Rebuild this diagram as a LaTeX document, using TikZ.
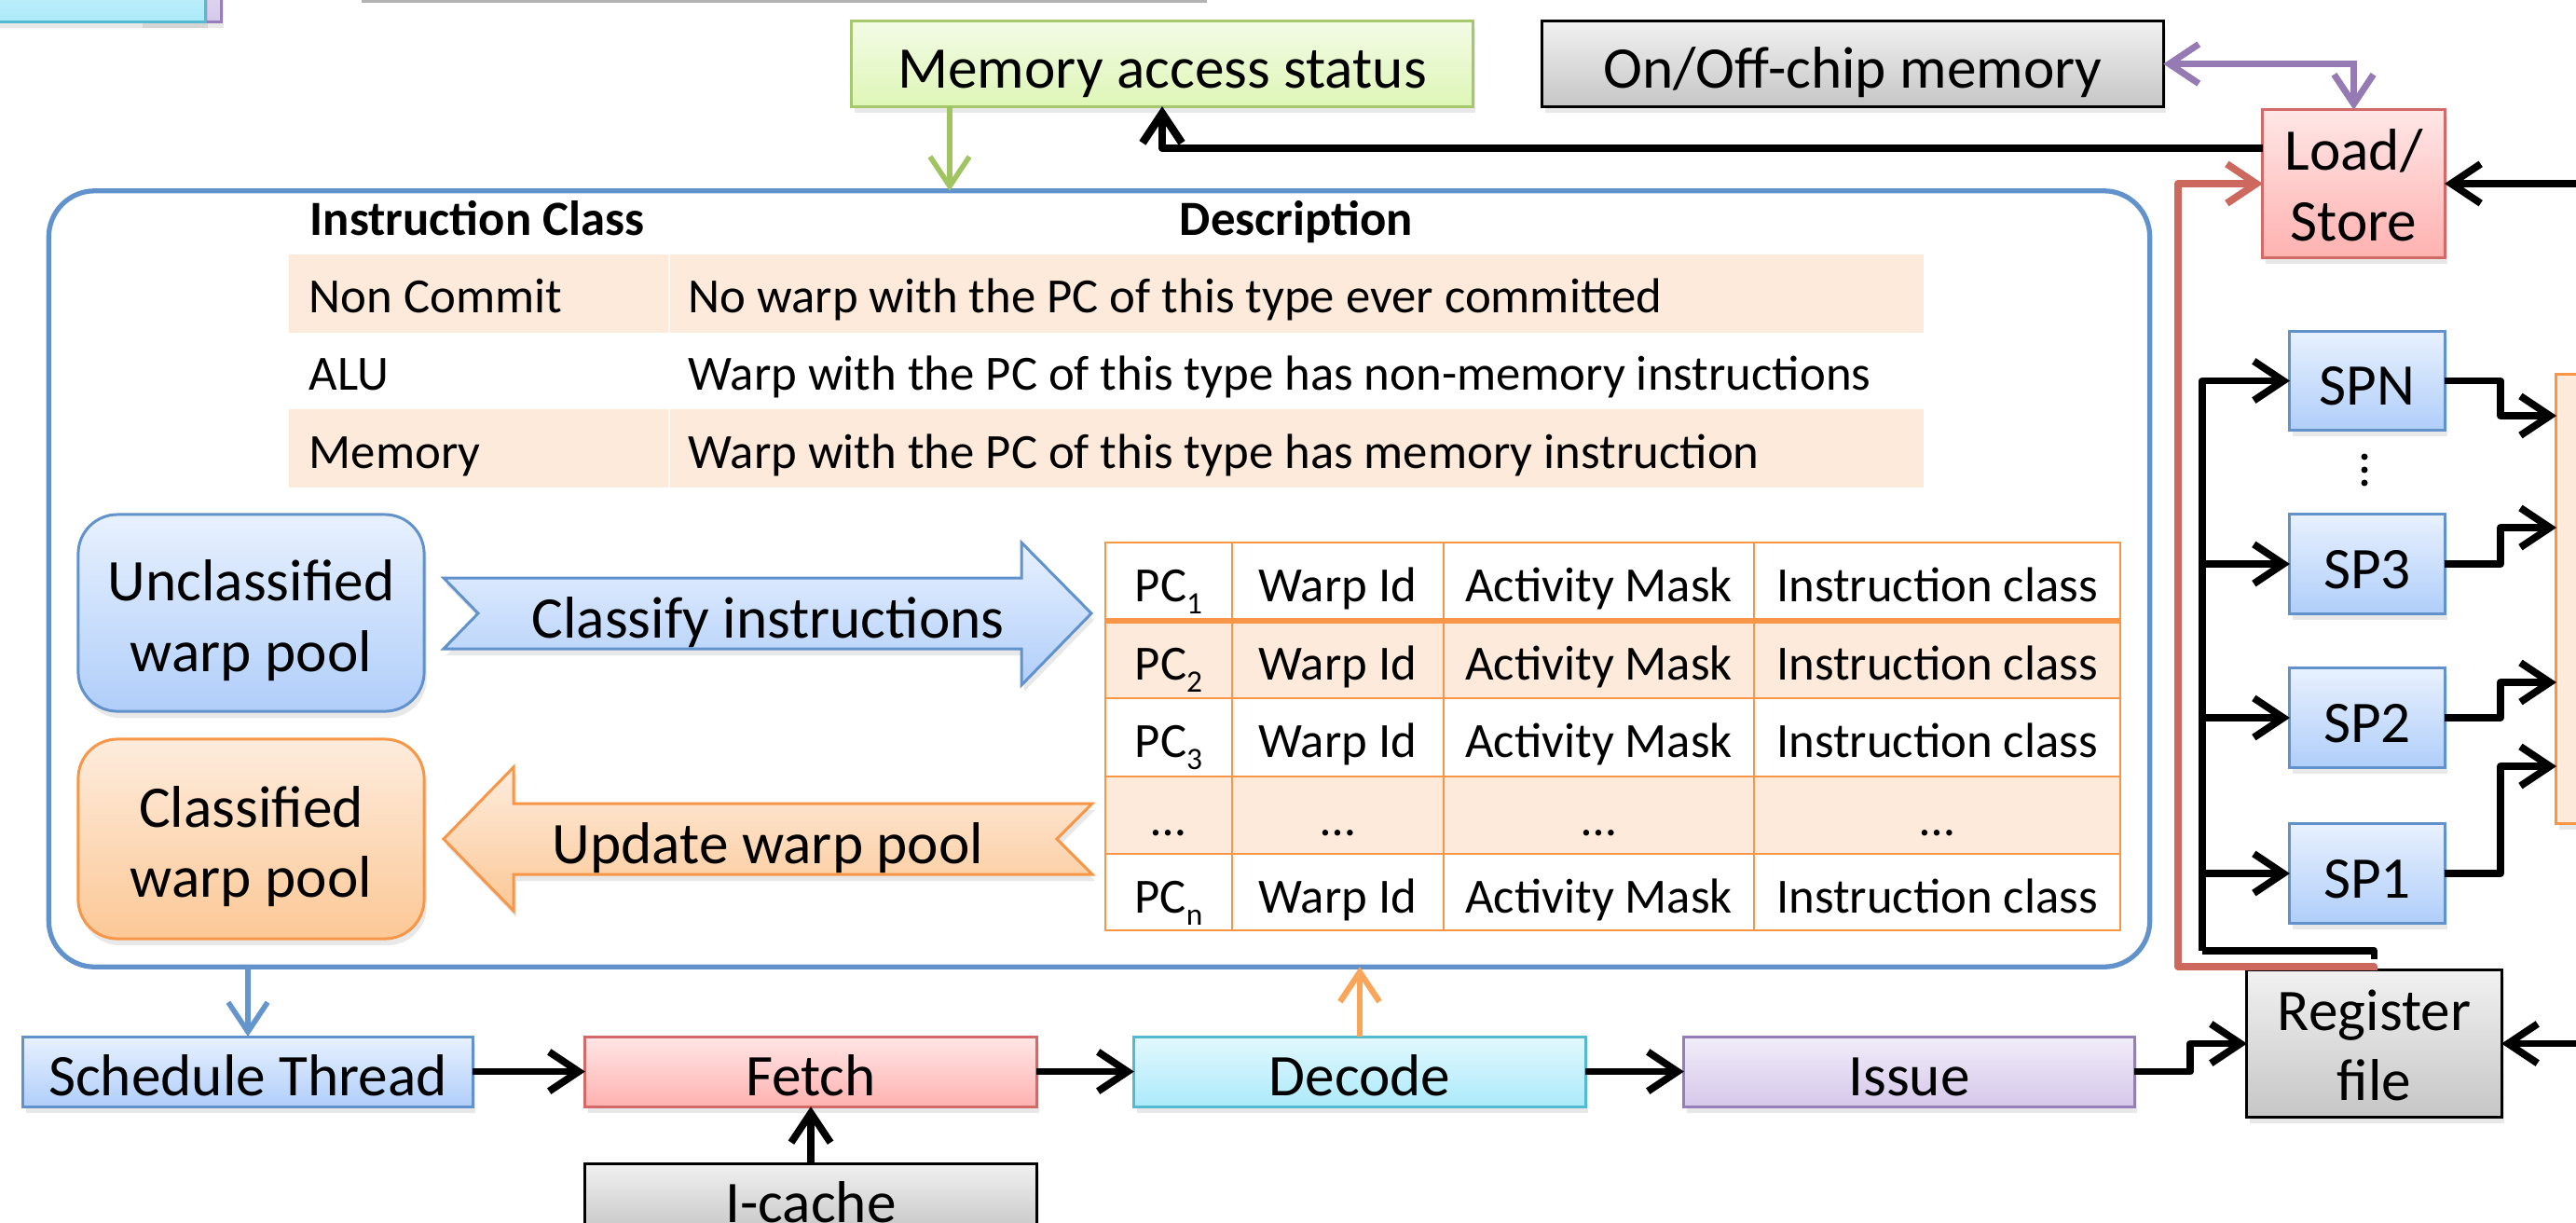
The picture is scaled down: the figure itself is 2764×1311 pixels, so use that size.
\documentclass[tikz,border=0pt]{standalone}
\usepackage{fontspec}
\setmainfont{Carlito}
\usetikzlibrary{arrows.meta,shadows,calc}
\definecolor{cBlue}{RGB}{98,146,204}
\definecolor{blueT}{RGB}{232,241,254}
\definecolor{blueB}{RGB}{176,206,250}
\definecolor{cRed}{RGB}{212,106,104}
\definecolor{redT}{RGB}{255,230,230}
\definecolor{redB}{RGB}{255,178,176}
\definecolor{cGreen}{RGB}{166,200,108}
\definecolor{greenT}{RGB}{243,251,230}
\definecolor{greenB}{RGB}{222,246,182}
\definecolor{grayT}{RGB}{241,241,241}
\definecolor{grayB}{RGB}{198,198,198}
\definecolor{cCyan}{RGB}{84,186,210}
\definecolor{cyanT}{RGB}{226,248,254}
\definecolor{cyanB}{RGB}{172,234,250}
\definecolor{cPurple}{RGB}{150,126,184}
\definecolor{purT}{RGB}{241,237,249}
\definecolor{purB}{RGB}{214,200,234}
\definecolor{cOrange}{RGB}{247,150,70}
\definecolor{oraT}{RGB}{253,236,221}
\definecolor{oraB}{RGB}{252,200,150}
\definecolor{peach}{RGB}{253,234,218}
\definecolor{lRed}{RGB}{205,104,94}
\definecolor{lPurple}{RGB}{150,122,180}
\definecolor{lGreen}{RGB}{160,196,98}
\definecolor{lBlue}{RGB}{100,150,205}
\definecolor{lOrange}{RGB}{249,166,90}
\newcommand\fA{\fontsize{18}{21.5}\selectfont}
\newcommand\fB{\fontsize{15}{18}\selectfont}
\newcommand\pcsub[1]{PC\raisebox{-3.7pt}{\fontsize{9.5}{9.5}\selectfont #1}}
% two-line label with controlled vertical placement
\newcommand\twol[3]{\rule{0pt}{#1}#2\\#3\rule[-5pt]{0pt}{5pt}}
\newcommand\mybox[7]{%
  \pgfmathsetmacro\myw{((#4)-(#2))*0.284528}%
  \pgfmathsetmacro\myh{((#5)-(#3))*0.284528}%
  \node[#6, minimum width=\myw pt, minimum height=\myh pt] (#1) at ({((#2)+(#4))/2},{((#3)+(#5))/2}) {#7};}
\begin{document}
\begin{tikzpicture}[x=0.01cm,y=-0.01cm,
  shd/.style={drop shadow={shadow xshift=0.8pt,shadow yshift=-2pt,opacity=0.18}},
  bx/.style={draw,inner sep=0pt,outer sep=0pt,line width=0.85pt,font=\fA,shd},
  one/.style={text height=15pt,text depth=0pt},
  two/.style={align=center},
  fblue/.style={bx,draw=cBlue,top color=blueT,bottom color=blueB},
  fred/.style={bx,draw=cRed,top color=redT,bottom color=redB},
  fgreen/.style={bx,draw=cGreen,top color=greenT,bottom color=greenB},
  fgray/.style={bx,draw=black,top color=grayT,bottom color=grayB},
  fcyan/.style={bx,draw=cCyan,top color=cyanT,bottom color=cyanB},
  fpurple/.style={bx,draw=cPurple,top color=purT,bottom color=purB},
  forange/.style={bx,draw=cOrange,top color=oraT,bottom color=oraB},
  arrowend/.style={-{Straight Barb[length=9pt,width=12pt]}},
  blk/.style={line width=2.2pt,line join=round,arrowend},
  thinarr/.style={line width=1.6pt,arrowend},
  tl/.style={font=\fB,anchor=base west,inner sep=0pt},
  tc/.style={font=\fB,anchor=base,inner sep=0pt},
  lbl/.style={font=\fA,inner sep=0pt,text height=15pt,text depth=0pt}
]
\useasboundingbox (0,0) rectangle (2764,1311);
\clip (0,0) rectangle (2764,1311);

% partial shapes at the top edge
\mybox{tlp}{150}{-60}{237}{23}{fpurple}{}
\mybox{tlc}{-20}{-60}{220}{23}{fcyan}{}
\draw[line width=1pt,draw=black!30] (388,1) -- (1295,1);

% top boxes
\mybox{mas}{914}{23}{1580}{114}{fgreen,one}{Memory access status}
\mybox{oo}{1655}{23}{2321}{114}{fgray,one}{On/Off-chip memory}
\mybox{ls}{2428}{128}{2623}{266}{fred,two}{\twol{18.5pt}{Load/}{Store}}

% big rounded container
\mybox{br}{53}{205}{2306}{1037}{draw=cBlue,line width=1.5pt,rounded corners=14pt,inner sep=0pt,outer sep=0pt}{}

% instruction class table
\fill[peach] (310,273) rectangle (2064,357);
\fill[peach] (310,439) rectangle (2064,523);
\draw[white,line width=0.5pt,opacity=0.7] (718,273) -- (718,357) (718,439) -- (718,523);
\node[tc,font=\fB\bfseries] (h1) at (512,252) {Instruction Class};
\node[tc,font=\fB\bfseries] (h2) at (1391,252) {Description};
\node[tl] (c11) at (331,335) {Non Commit};
\node[tl] (c12) at (738,335) {No warp with the PC of this type ever committed};
\node[tl] (c21) at (331,418) {ALU};
\node[tl] (c22) at (738,418) {Warp with the PC of this type has non-memory instructions};
\node[tl] (c31) at (331,502) {Memory};
\node[tl] (c32) at (738,502) {Warp with the PC of this type has memory instruction};

% warp pools
\mybox{uw}{84}{552}{455}{763}{fblue,two,rounded corners=12pt}{\twol{19.3pt}{Unclassified}{warp pool}}
\mybox{cw}{84}{793}{455}{1007}{forange,two,rounded corners=12pt}{\twol{19.1pt}{Classified}{warp pool}}

% block arrows
\path[draw=cBlue,line width=0.85pt,top color=blueT,bottom color=blueB,shd]
  (476,620) -- (1096,620) -- (1096,582) -- (1171,658) -- (1096,735) -- (1096,696) -- (476,696) -- (513,658) -- cycle;
\node[lbl] (cls) at (824,658) {Classify instructions};
\path[draw=cOrange,line width=0.85pt,top color=oraT,bottom color=oraB,shd]
  (476,900) -- (551,823) -- (551,862) -- (1172,862) -- (1134,900) -- (1172,938) -- (551,938) -- (551,977) -- cycle;
\node[lbl] (upd) at (824,900) {Update warp pool};

% warp table
\fill[white] (1186,582) rectangle (2275,998);
\fill[peach] (1186,666) rectangle (2275,749);
\fill[peach] (1186,833) rectangle (2275,916);
\draw[cOrange,line width=0.8pt] (1186,582) rectangle (2275,998)
  (1186,749) -- (2275,749) (1186,833) -- (2275,833) (1186,916) -- (2275,916)
  (1322,582) -- (1322,998) (1549,582) -- (1549,998) (1882,582) -- (1882,998);
\draw[cOrange,line width=1.5pt] (1186,666) -- (2275,666);
\foreach \r/\yb/\p in {1/645/1,2/729/2,3/812/3,5/979/n}{
  \node[tc] (pc\r) at (1254,\yb) {\pcsub{\p}};
  \node[tc] (wi\r) at (1435.5,\yb) {Warp Id};
  \node[tc] (am\r) at (1715.5,\yb) {Activity Mask};
  \node[tc] (ic\r) at (2078.5,\yb) {Instruction class};
}
\node[tc] (pc4) at (1254,896) {…};
\node[tc] (wi4) at (1435.5,896) {…};
\node[tc] (am4) at (1715.5,896) {…};
\node[tc] (ic4) at (2078.5,896) {…};

% pipeline
\mybox{st}{25}{1112}{507}{1187}{fblue,one}{Schedule Thread}
\mybox{fe}{628}{1112}{1112}{1187}{fred,one}{Fetch}
\mybox{de}{1217}{1112}{1701}{1187}{fcyan,one}{Decode}
\mybox{is}{1807}{1112}{2290}{1187}{fpurple,one}{Issue}
\mybox{rf}{2411}{1051}{2684}{1188}{fgray,two}{\twol{18.3pt}{Register}{file}}
\mybox{icache}{628}{1248}{1112}{1323}{fgray,one}{I-cache}

% SP units
\mybox{spN}{2457}{356}{2623}{461}{fblue,one}{SPN}
\mybox{sp3}{2457}{552}{2623}{658}{fblue,one}{SP3}
\mybox{sp2}{2457}{717}{2623}{823}{fblue,one}{SP2}
\mybox{sp1}{2457}{884}{2623}{990}{fblue,one}{SP1}
\fill (2537,490) circle (3.5) (2537,504) circle (3.5) (2537,518) circle (3.5);
\mybox{ob}{2743}{402}{2950}{883}{bx,draw=cOrange,fill=peach}{}

% connectors
\draw[blk] (st.east) -- (fe.west);
\draw[blk] (fe.east) -- (de.west);
\draw[blk] (de.east) -- (is.west);
\draw[blk] (is.east) -- ++(60,0) |- (rf.west);
\draw[blk] (icache.north) -- (fe.south);
\coordinate (rfin) at (2800,1119.5);
\draw[blk] (rfin) -- (rf.east);
\coordinate (lsin) at (2800,197);
\draw[blk] (lsin) -- (ls.east);
\coordinate (lsout) at ($(ls.west)+(0,-38)$);
\draw[blk,line width=2.4pt] (lsout) -| (mas.south);
\draw[line width=2pt,lPurple,{Straight Barb[length=9pt,width=12pt]}-{Straight Barb[length=9pt,width=12pt]}] (oo.east) -| (ls.north);
\coordinate (gx) at (1019,0);
\draw[thinarr,lGreen] (mas.south -| gx) -- (br.north -| gx);
\draw[thinarr,lBlue] (br.south -| st.north) -- (st.north);
\draw[thinarr,lOrange,line width=1.8pt] (de.north) -- (de.north |- br.south);

\coordinate (rc) at (2337,1037);
\draw[blk,lRed,line width=2.2pt] (rf.north) |- (rc) |- (ls.west);
\coordinate (bs) at ($(rf.north)+(0,-12)$);
\coordinate (bc) at (2363,1020);
\draw[line width=2.2pt,line join=round] (bs) |- (bc);
\foreach \s in {spN,sp3,sp2,sp1}{\draw[blk] (bc) |- (\s.west);}

\coordinate (oN) at (2743,446);
\coordinate (o3) at (2743,566);
\coordinate (o2) at (2743,732);
\coordinate (o1) at (2743,822);
\draw[blk] (spN.east) -- ++(60,0) |- (oN);
\draw[blk] (sp3.east) -- ++(60,0) |- (o3);
\draw[blk] (sp2.east) -- ++(60,0) |- (o2);
\draw[blk] (sp1.east) -- ++(60,0) |- (o1);
\end{tikzpicture}
\end{document}
